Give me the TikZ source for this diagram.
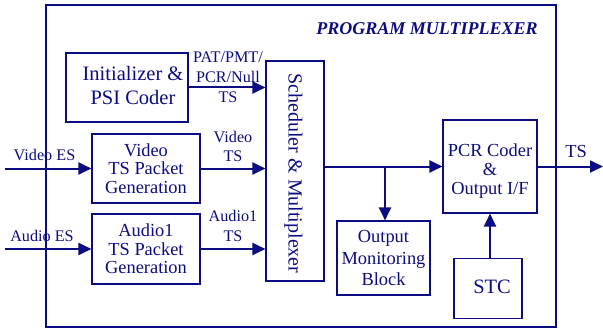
\documentclass[tikz,border=0pt]{standalone}
\usepackage{fontspec}
\setmainfont{Liberation Serif}
\usetikzlibrary{arrows.meta,calc}
\definecolor{navyink}{RGB}{12,12,130}
\begin{document}
\begin{tikzpicture}[x=1pt,y=-1pt,
  every node/.style={text=navyink,inner sep=0pt},
  frame/.style={draw=navyink,line width=2.5pt,inner sep=0pt},
  blk/.style={draw=navyink,line width=1.1pt,inner sep=0pt,align=center,
    font=\fontsize{18.4}{18.7}\selectfont},
  blktxt/.style={align=center,font=\fontsize{18.4}{18.7}\selectfont},
  lbl/.style={align=center,font=\fontsize{16.2}{19.8}\selectfont},
  flow/.style={draw=navyink,line width=2pt,-{Triangle[length=13pt,width=12pt]}}
]
\useasboundingbox (0,0) rectangle (603,329);

% enclosing multiplexer frame
\node[frame,minimum width=510pt,minimum height=322pt] (mux) at (301,166) {};
\node[font=\bfseries\itshape\fontsize{18}{20}\selectfont] (title) at (427,28.5) {PROGRAM MULTIPLEXER};

% functional blocks
\node[blk,minimum width=122pt,minimum height=69pt] (init) at (127,87.5) {};
\node[align=center,font=\fontsize{20.5}{24}\selectfont] (initT) at (133,85.5) {Initializer \&\\PSI Coder};

\node[blk,minimum width=58pt,minimum height=220pt] (sched) at (295,171) {};
\node[rotate=-90,font=\fontsize{20}{24}\selectfont] (schedT) at (293.5,173.5) {Scheduler \& Multiplexer};

\node[blk,minimum width=108pt,minimum height=69pt] (video) at (146,168.5) {Video\\TS Packet\\Generation};
\node[blk,minimum width=108pt,minimum height=70pt] (audio) at (146,249) {Audio1\\TS Packet\\Generation};

\node[blk,minimum width=93pt,minimum height=74pt,font=\fontsize{18.4}{21.8}\selectfont] (mon) at (383.5,258) {Output\\Monitoring\\Block};

\node[blk,minimum width=94pt,minimum height=93pt] (pcr) at (490,166.5) {};
\node[blktxt] (pcrT) at (490,171) {PCR Coder\\\&\\Output I/F};

\node[blk,minimum width=68pt,minimum height=60pt] (stc) at (488,288.7) {};
\node[font=\fontsize{20.4}{24}\selectfont] (stcT) at (492,286.5) {STC};

% connector labels
\node[lbl] (patL) at (228,77.5) {PAT/PMT/\\PCR/Null\\TS};
\node[lbl] (vtsL) at (233,146.5) {Video\\TS};
\node[lbl] (atsL) at (233,226) {Audio1\\TS};
\node[lbl] (vesL) at (44.5,155.5) {Video ES};
\node[lbl] (aesL) at (42,236) {Audio ES};
\node[font=\fontsize{18.4}{20}\selectfont] (tsL) at (576,151) {TS};

% free ends and taps
\coordinate (vin) at (5,168.5);
\coordinate (ain) at (5,249);
\coordinate (tap) at (385,166.5);
\coordinate (tsout) at (603,166.5);

% data flow
\draw[flow] (vin) -- (video.west);
\draw[flow] (ain) -- (audio.west);
\draw[flow] (init.east) -- (init.east -| sched.west);
\draw[flow] (video.east) -- (video.east -| sched.west);
\draw[flow] (audio.east) -- (audio.east -| sched.west);
\draw[flow] (sched.east |- pcr.west) -- (pcr.west);
\draw[flow] (tap) -- (tap |- mon.north);
\draw[flow] (pcr.south |- stc.north) -- (pcr.south);
\draw[flow] (pcr.east) -- (tsout);
\end{tikzpicture}
\end{document}
